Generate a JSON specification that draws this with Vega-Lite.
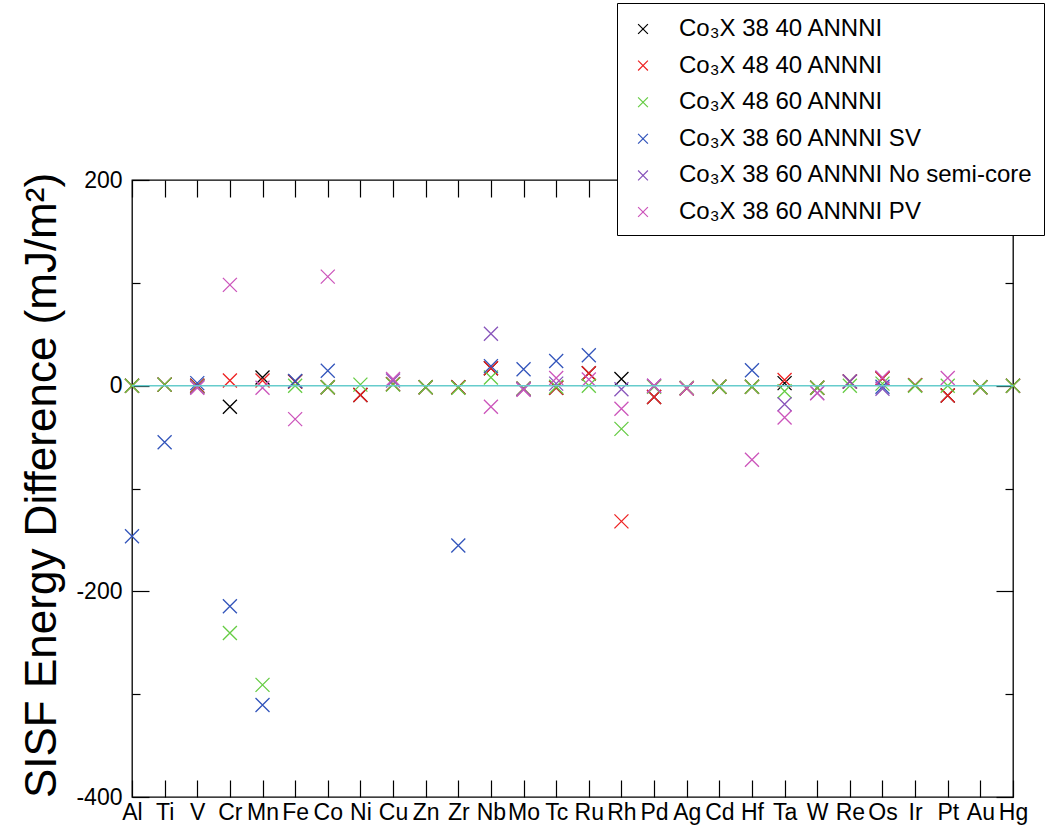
{
  "$schema": "https://vega.github.io/schema/vega-lite/v6.json",
  "width": 881,
  "height": 617,
  "autosize": {"type": "none"},
  "padding": {"left": 132, "top": 180, "right": 34, "bottom": 36},
  "background": "white",
  "config": {
    "font": "Liberation Sans",
    "view": {"stroke": "#000", "strokeWidth": 1.3},
    "axis": {"domain": false, "grid": false, "ticks": true, "tickColor": "#000", "tickWidth": 1.2, "tickSize": -17, "labelColor": "#000", "labelFontSize": 23, "labelFont": "Liberation Sans", "offset": 0},
    "legend": {"orient": "none", "legendX": 485, "legendY": -177, "title": null, "symbolSize": 784, "symbolStrokeWidth": 1.2, "labelFontSize": 24, "labelFont": "Liberation Sans", "labelColor": "#000", "labelOffset": 21, "padding": 11, "rowPadding": 9.6, "strokeColor": "#000", "fillColor": "white", "labelLimit": 600}
  },
  "data": {"values": [
    {"el": "Al", "series": "Co₃X 38 40 ANNNI", "v": 0},
    {"el": "Ti", "series": "Co₃X 38 40 ANNNI", "v": 1},
    {"el": "V", "series": "Co₃X 38 40 ANNNI", "v": 0},
    {"el": "Cr", "series": "Co₃X 38 40 ANNNI", "v": -20.5},
    {"el": "Mn", "series": "Co₃X 38 40 ANNNI", "v": 8},
    {"el": "Fe", "series": "Co₃X 38 40 ANNNI", "v": 4},
    {"el": "Co", "series": "Co₃X 38 40 ANNNI", "v": -1.5},
    {"el": "Ni", "series": "Co₃X 38 40 ANNNI", "v": -9},
    {"el": "Cu", "series": "Co₃X 38 40 ANNNI", "v": 1.5},
    {"el": "Zn", "series": "Co₃X 38 40 ANNNI", "v": -1.5},
    {"el": "Zr", "series": "Co₃X 38 40 ANNNI", "v": -1.5},
    {"el": "Nb", "series": "Co₃X 38 40 ANNNI", "v": 17},
    {"el": "Mo", "series": "Co₃X 38 40 ANNNI", "v": -3},
    {"el": "Tc", "series": "Co₃X 38 40 ANNNI", "v": -2},
    {"el": "Ru", "series": "Co₃X 38 40 ANNNI", "v": 12},
    {"el": "Rh", "series": "Co₃X 38 40 ANNNI", "v": 6.5},
    {"el": "Pd", "series": "Co₃X 38 40 ANNNI", "v": -11},
    {"el": "Ag", "series": "Co₃X 38 40 ANNNI", "v": -2.5},
    {"el": "Cd", "series": "Co₃X 38 40 ANNNI", "v": -1},
    {"el": "Hf", "series": "Co₃X 38 40 ANNNI", "v": -1},
    {"el": "Ta", "series": "Co₃X 38 40 ANNNI", "v": 2.5},
    {"el": "W", "series": "Co₃X 38 40 ANNNI", "v": -2},
    {"el": "Re", "series": "Co₃X 38 40 ANNNI", "v": 4},
    {"el": "Os", "series": "Co₃X 38 40 ANNNI", "v": 7},
    {"el": "Ir", "series": "Co₃X 38 40 ANNNI", "v": 0.5},
    {"el": "Pt", "series": "Co₃X 38 40 ANNNI", "v": -9.5},
    {"el": "Au", "series": "Co₃X 38 40 ANNNI", "v": -1.5},
    {"el": "Hg", "series": "Co₃X 38 40 ANNNI", "v": 0},

    {"el": "Al", "series": "Co₃X 48 40 ANNNI", "v": 0},
    {"el": "Ti", "series": "Co₃X 48 40 ANNNI", "v": 1},
    {"el": "V", "series": "Co₃X 48 40 ANNNI", "v": 0},
    {"el": "Cr", "series": "Co₃X 48 40 ANNNI", "v": 5},
    {"el": "Mn", "series": "Co₃X 48 40 ANNNI", "v": 5},
    {"el": "Fe", "series": "Co₃X 48 40 ANNNI", "v": 4},
    {"el": "Co", "series": "Co₃X 48 40 ANNNI", "v": -1.5},
    {"el": "Ni", "series": "Co₃X 48 40 ANNNI", "v": -9},
    {"el": "Cu", "series": "Co₃X 48 40 ANNNI", "v": 1.5},
    {"el": "Zn", "series": "Co₃X 48 40 ANNNI", "v": -1.5},
    {"el": "Zr", "series": "Co₃X 48 40 ANNNI", "v": -1.5},
    {"el": "Nb", "series": "Co₃X 48 40 ANNNI", "v": 17},
    {"el": "Mo", "series": "Co₃X 48 40 ANNNI", "v": -3},
    {"el": "Tc", "series": "Co₃X 48 40 ANNNI", "v": -2},
    {"el": "Ru", "series": "Co₃X 48 40 ANNNI", "v": 12},
    {"el": "Rh", "series": "Co₃X 48 40 ANNNI", "v": -132},
    {"el": "Pd", "series": "Co₃X 48 40 ANNNI", "v": -11},
    {"el": "Ag", "series": "Co₃X 48 40 ANNNI", "v": -2.5},
    {"el": "Cd", "series": "Co₃X 48 40 ANNNI", "v": -1},
    {"el": "Hf", "series": "Co₃X 48 40 ANNNI", "v": -1},
    {"el": "Ta", "series": "Co₃X 48 40 ANNNI", "v": 5.5},
    {"el": "W", "series": "Co₃X 48 40 ANNNI", "v": -2},
    {"el": "Re", "series": "Co₃X 48 40 ANNNI", "v": 4},
    {"el": "Os", "series": "Co₃X 48 40 ANNNI", "v": 7},
    {"el": "Ir", "series": "Co₃X 48 40 ANNNI", "v": 0.5},
    {"el": "Pt", "series": "Co₃X 48 40 ANNNI", "v": -9.5},
    {"el": "Au", "series": "Co₃X 48 40 ANNNI", "v": -1.5},
    {"el": "Hg", "series": "Co₃X 48 40 ANNNI", "v": 0},

    {"el": "Al", "series": "Co₃X 48 60 ANNNI", "v": 0},
    {"el": "Ti", "series": "Co₃X 48 60 ANNNI", "v": 1},
    {"el": "V", "series": "Co₃X 48 60 ANNNI", "v": -1},
    {"el": "Cr", "series": "Co₃X 48 60 ANNNI", "v": -240.5},
    {"el": "Mn", "series": "Co₃X 48 60 ANNNI", "v": -291},
    {"el": "Fe", "series": "Co₃X 48 60 ANNNI", "v": 0},
    {"el": "Co", "series": "Co₃X 48 60 ANNNI", "v": -1.5},
    {"el": "Ni", "series": "Co₃X 48 60 ANNNI", "v": 1},
    {"el": "Cu", "series": "Co₃X 48 60 ANNNI", "v": 1},
    {"el": "Zn", "series": "Co₃X 48 60 ANNNI", "v": -1.5},
    {"el": "Zr", "series": "Co₃X 48 60 ANNNI", "v": -2},
    {"el": "Nb", "series": "Co₃X 48 60 ANNNI", "v": 8},
    {"el": "Mo", "series": "Co₃X 48 60 ANNNI", "v": -3},
    {"el": "Tc", "series": "Co₃X 48 60 ANNNI", "v": -1},
    {"el": "Ru", "series": "Co₃X 48 60 ANNNI", "v": 0},
    {"el": "Rh", "series": "Co₃X 48 60 ANNNI", "v": -42},
    {"el": "Pd", "series": "Co₃X 48 60 ANNNI", "v": -1},
    {"el": "Ag", "series": "Co₃X 48 60 ANNNI", "v": -2},
    {"el": "Cd", "series": "Co₃X 48 60 ANNNI", "v": -1},
    {"el": "Hf", "series": "Co₃X 48 60 ANNNI", "v": -1},
    {"el": "Ta", "series": "Co₃X 48 60 ANNNI", "v": -5.5},
    {"el": "W", "series": "Co₃X 48 60 ANNNI", "v": -2},
    {"el": "Re", "series": "Co₃X 48 60 ANNNI", "v": 0},
    {"el": "Os", "series": "Co₃X 48 60 ANNNI", "v": 2},
    {"el": "Ir", "series": "Co₃X 48 60 ANNNI", "v": 0},
    {"el": "Pt", "series": "Co₃X 48 60 ANNNI", "v": 0},
    {"el": "Au", "series": "Co₃X 48 60 ANNNI", "v": -1.5},
    {"el": "Hg", "series": "Co₃X 48 60 ANNNI", "v": 0},

    {"el": "Al", "series": "Co₃X 38 60 ANNNI SV", "v": -146.5},
    {"el": "Ti", "series": "Co₃X 38 60 ANNNI SV", "v": -55},
    {"el": "V", "series": "Co₃X 38 60 ANNNI SV", "v": 2.5},
    {"el": "Cr", "series": "Co₃X 38 60 ANNNI SV", "v": -214.5},
    {"el": "Mn", "series": "Co₃X 38 60 ANNNI SV", "v": -310.5},
    {"el": "Fe", "series": "Co₃X 38 60 ANNNI SV", "v": 4.5},
    {"el": "Co", "series": "Co₃X 38 60 ANNNI SV", "v": 14.5},
    {"el": "Zr", "series": "Co₃X 38 60 ANNNI SV", "v": -155.5},
    {"el": "Nb", "series": "Co₃X 38 60 ANNNI SV", "v": 19},
    {"el": "Mo", "series": "Co₃X 38 60 ANNNI SV", "v": 16},
    {"el": "Tc", "series": "Co₃X 38 60 ANNNI SV", "v": 24},
    {"el": "Ru", "series": "Co₃X 38 60 ANNNI SV", "v": 29.5},
    {"el": "Hf", "series": "Co₃X 38 60 ANNNI SV", "v": 15},
    {"el": "Os", "series": "Co₃X 38 60 ANNNI SV", "v": -1},

    {"el": "V", "series": "Co₃X 38 60 ANNNI No semi-core", "v": -1.5},
    {"el": "Cu", "series": "Co₃X 38 60 ANNNI No semi-core", "v": 5},
    {"el": "Nb", "series": "Co₃X 38 60 ANNNI No semi-core", "v": 50.5},
    {"el": "Mo", "series": "Co₃X 38 60 ANNNI No semi-core", "v": -3.5},
    {"el": "Tc", "series": "Co₃X 38 60 ANNNI No semi-core", "v": 2},
    {"el": "Rh", "series": "Co₃X 38 60 ANNNI No semi-core", "v": -3.5},
    {"el": "Pd", "series": "Co₃X 38 60 ANNNI No semi-core", "v": 0},
    {"el": "Ta", "series": "Co₃X 38 60 ANNNI No semi-core", "v": -18},
    {"el": "W", "series": "Co₃X 38 60 ANNNI No semi-core", "v": -7},
    {"el": "Re", "series": "Co₃X 38 60 ANNNI No semi-core", "v": 4},
    {"el": "Os", "series": "Co₃X 38 60 ANNNI No semi-core", "v": -3},

    {"el": "V", "series": "Co₃X 38 60 ANNNI PV", "v": -2},
    {"el": "Cr", "series": "Co₃X 38 60 ANNNI PV", "v": 98},
    {"el": "Mn", "series": "Co₃X 38 60 ANNNI PV", "v": -2},
    {"el": "Fe", "series": "Co₃X 38 60 ANNNI PV", "v": -32.5},
    {"el": "Co", "series": "Co₃X 38 60 ANNNI PV", "v": 106},
    {"el": "Cu", "series": "Co₃X 38 60 ANNNI PV", "v": 6.5},
    {"el": "Nb", "series": "Co₃X 38 60 ANNNI PV", "v": -20.5},
    {"el": "Mo", "series": "Co₃X 38 60 ANNNI PV", "v": -4},
    {"el": "Tc", "series": "Co₃X 38 60 ANNNI PV", "v": 7.5},
    {"el": "Ru", "series": "Co₃X 38 60 ANNNI PV", "v": 6},
    {"el": "Rh", "series": "Co₃X 38 60 ANNNI PV", "v": -22.5},
    {"el": "Pd", "series": "Co₃X 38 60 ANNNI PV", "v": 0},
    {"el": "Ag", "series": "Co₃X 38 60 ANNNI PV", "v": -2.5},
    {"el": "Hf", "series": "Co₃X 38 60 ANNNI PV", "v": -72},
    {"el": "Ta", "series": "Co₃X 38 60 ANNNI PV", "v": -31},
    {"el": "W", "series": "Co₃X 38 60 ANNNI PV", "v": -7.5},
    {"el": "Os", "series": "Co₃X 38 60 ANNNI PV", "v": 8},
    {"el": "Pt", "series": "Co₃X 38 60 ANNNI PV", "v": 7.5}
  ]},
  "layer": [
    {
      "mark": {"type": "point", "shape": "M-1,-1L1,1M-1,1L1,-1", "filled": false, "size": 196, "strokeWidth": 1.3, "opacity": 1},
      "encoding": {
        "x": {"field": "el", "type": "ordinal", "sort": null,
          "scale": {"type": "point", "padding": 0, "domain": ["Al","Ti","V","Cr","Mn","Fe","Co","Ni","Cu","Zn","Zr","Nb","Mo","Tc","Ru","Rh","Pd","Ag","Cd","Hf","Ta","W","Re","Os","Ir","Pt","Au","Hg"]},
          "axis": {"orient": "bottom", "title": null, "labelAngle": 0, "labelPadding": 21, "labelOverlap": false, "labelBound": false, "labelFlush": false, "ticks": true}},
        "y": {"field": "v", "type": "quantitative",
          "scale": {"domain": [-400, 200], "nice": false, "zero": false},
          "axis": {"orient": "left", "values": [-400,-200,0,200], "ticks": true,
            "labelExpr": "'' + datum.value",
            "labelPadding": 27, "labelFlush": false, "labelBound": false,
            "title": "SISF Energy Difference (mJ/m²)", "titleFontSize": 44, "titleFontWeight": "normal", "titleColor": "#000", "titleFont": "Liberation Sans",
            "titleX": -90, "titleY": 305, "titleBaseline": "middle", "titleAngle": 270, "titleAlign": "center"}},
        "color": {"field": "series", "type": "nominal",
          "scale": {"domain": ["Co₃X 38 40 ANNNI","Co₃X 48 40 ANNNI","Co₃X 48 60 ANNNI","Co₃X 38 60 ANNNI SV","Co₃X 38 60 ANNNI No semi-core","Co₃X 38 60 ANNNI PV"],
                    "range": ["#000000","#ee2222","#66cc44","#3355bb","#8855bb","#cc55bb"]},
          "legend": {"symbolType": "M-0.35,-0.35L0.35,0.35M-0.35,0.35L0.35,-0.35"}}
      }
    },
    {
      "mark": {"type": "point", "opacity": 0},
      "encoding": {
        "x": {"field": "el", "type": "ordinal", "sort": null,
          "axis": {"orient": "top", "title": null, "labels": false, "ticks": true}},
        "y": {"field": "v", "type": "quantitative",
          "axis": {"orient": "right", "title": null, "labels": false, "ticks": true, "values": [-400,-200,0,200]}}
      }
    },
    {
      "mark": {"type": "point", "opacity": 0},
      "encoding": {
        "y": {"field": "v", "type": "quantitative",
          "axis": {"orient": "left", "title": null, "labels": false, "ticks": true, "tickSize": -8, "offset": 0, "values": [-300,-100,100]}}
      }
    },
    {
      "mark": {"type": "point", "opacity": 0},
      "encoding": {
        "y": {"field": "v", "type": "quantitative",
          "axis": {"orient": "right", "title": null, "labels": false, "ticks": true, "tickSize": -8, "offset": 0, "values": [-300,-100,100]}}
      }
    },
    {
      "data": {"values": [{"y": 0}]},
      "mark": {"type": "rule", "color": "#66cccc", "strokeWidth": 1.5},
      "encoding": {
        "y": {"field": "y", "type": "quantitative", "axis": null}
      }
    }
  ],
  "resolve": {"axis": {"x": "independent", "y": "independent"}}
}
